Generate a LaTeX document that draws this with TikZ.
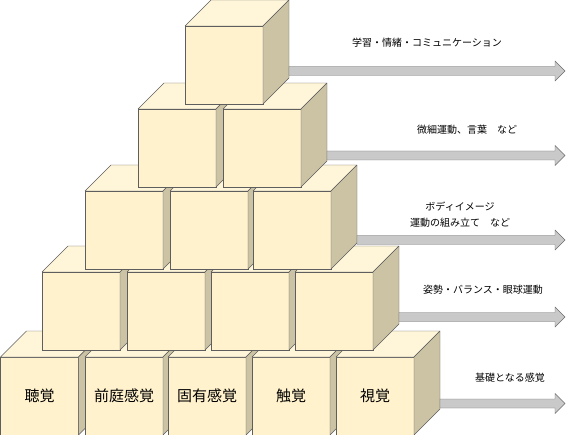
\documentclass[tikz,border=0pt]{standalone}
\usepackage{fontspec}
\newfontfamily\jp{Noto Sans CJK JP}
\usepackage{xcolor}
\usetikzlibrary{calc}

\definecolor{frontcol}{HTML}{FFF2CC}
\definecolor{topcol}{HTML}{FFF5D8}
\definecolor{sidecol}{HTML}{CCC3A4}
\definecolor{edgecol}{HTML}{5E5E5E}
\definecolor{arrowcol}{HTML}{C9C9C9}
\definecolor{arrowedge}{HTML}{6E6E6E}

% one cube: name, x, y of front top left, label
\newcommand{\blockcube}[4]{%
    \node [cubefront] (#1) at (#2+39, #3+39) {#4};
    \draw [cubetop] (#1.north west) -- ++(26,-26) -- ++(78,0) -- (#1.north east) -- cycle;
    \draw [cubeside] (#1.north east) -- ++(26,-26) -- ++(0,78) -- (#1.south east) -- cycle;
}

\begin{document}
\begin{tikzpicture}[x=1pt, y=-1pt,
        cubefront/.style={draw=edgecol, fill=frontcol, minimum width=78pt, minimum height=78pt,
            inner sep=0pt, outer sep=0pt, font=\jp\fontsize{15}{18}\selectfont},
        cubetop/.style={draw=edgecol, fill=topcol, line join=round},
        cubeside/.style={draw=edgecol, fill=sidecol, line join=round},
        bigarrow/.style={draw=arrowedge, fill=arrowcol},
        lbl/.style={font=\jp\fontsize{10}{16}\selectfont, inner sep=0pt}]
    \useasboundingbox (0,0) rectangle (588,435);
    % Bottom row
    \blockcube{c11}{0.5}{357}{聴覚}
    \blockcube{c12}{85}{357}{前庭感覚}
    \blockcube{c13}{168}{357}{固有感覚}
    \blockcube{c14}{252}{357}{触覚}
    \blockcube{c15}{336}{357}{視覚}
    % Second row
    \foreach \n/\x in {1/42, 2/127, 3/211, 4/295}
        \blockcube{c2\n}{\x}{272}{};
    % Third row
    \foreach \n/\x in {1/85, 2/170, 3/253}
        \blockcube{c3\n}{\x}{191}{};
    % Fourth row
    \blockcube{c41}{138}{109}{}
    \blockcube{c42}{223}{109}{}
    % Top
    \blockcube{c51}{185}{26}{}
    % Arrows
    \coordinate (edge) at (565,0);
    \foreach \c/\d/\i in {c51/6/1, c42/7.5/2, c33/10/3, c24/6/4, c15/7.5/5} {
        \coordinate (s\i) at ($(\c.east)+(26,\d)$);
        \coordinate (t\i) at (s\i -| edge);
        \draw [bigarrow] ($(s\i)+(0,-4.5)$) -- ($(t\i)+(-10,-4.5)$) -- ($(t\i)+(-10,-10)$) -- (t\i)
            -- ($(t\i)+(-10,10)$) -- ($(t\i)+(-10,4.5)$) -- ($(s\i)+(0,4.5)$) -- cycle;
    }
    % Labels
    \node [lbl] (l1) at (427,43) {学習・情緒・コミュニケーション};
    \node [lbl] (l2) at (467,130) {微細運動、言葉　など};
    \node [lbl, align=center] (l3) at (460,215) {ボディイメージ\\運動の組み立て　など};
    \node [lbl] (l4) at (483,290) {姿勢・バランス・眼球運動};
    \node [lbl] (l5) at (510,378) {基礎となる感覚};
\end{tikzpicture}
\end{document}
